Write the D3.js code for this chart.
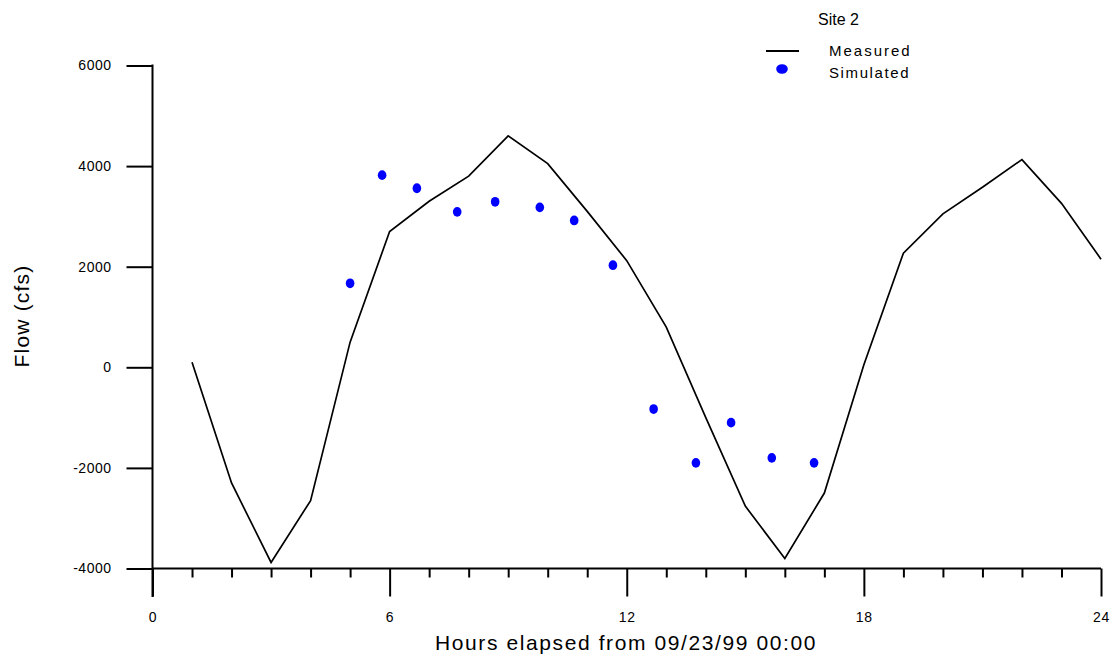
<!DOCTYPE html>
<html>
<head>
<meta charset="utf-8">
<script src="https://cdn.jsdelivr.net/npm/d3@7"></script>
<style>
  body { margin: 0; background: #fff; }
  svg { display: block; font-family: "Liberation Sans", Arial, sans-serif; }
</style>
</head>
<body>
<div id="chart"></div>
<script>
const WIDTH = 1117;
const HEIGHT = 660;

// measured flow, one reading each hour
const measuredHours = [1, 2, 3, 4, 5, 6, 7, 8, 9, 10, 11, 12, 13, 14, 15, 16, 17, 18, 19, 20, 21, 22, 23, 24];
const measuredFlow = [100, -2300, -3880, -2650, 500, 2700, 3300, 3800, 4600, 4050, 3100, 2120,
  800, -1000, -2760, -3800, -2500, 50, 2270, 3050, 3580, 4130, 3260, 2150];

// simulated flow
const simulatedHours = [5.0, 5.81, 6.69, 7.71, 8.67, 9.8, 10.67, 11.65, 12.68, 13.75, 14.64, 15.67, 16.74];
const simulatedFlow = [1670, 3820, 3560, 3090, 3290, 3180, 2920, 2030, -830, -1900, -1100, -1800, -1900];

const yTicks = [-4000, -2000, 0, 2000, 4000, 6000];
const xLabelTicks = [0, 6, 12, 18, 24];

const LINE_COLOR = '#000';
const DOT_COLOR = '#0000ff';

document.addEventListener('DOMContentLoaded', function() {
  drawChart();
});

function drawChart()
{
  var svg = d3.select('#chart').append('svg')
    .attr('width', WIDTH)
    .attr('height', HEIGHT);

  var x = d3.scaleLinear().domain([0, 24]).range([152.5, 1101]);
  var y = d3.scaleLinear().domain([-4000, 6000]).range([568.5, 65.5]);

  // y axis
  var yAxis = svg.append('g')
    .attr('transform', 'translate(152.5,0)')
    .call(d3.axisLeft(y).tickValues(yTicks).tickSize(26).tickPadding(15)
      .tickFormat(function(d) { return String(d); }));
  yAxis.select('.domain').remove();
  yAxis.selectAll('line').attr('stroke-width', 2);
  yAxis.selectAll('text')
    .attr('font-size', 14)
    .attr('letter-spacing', 0.5)
    .attr('fill', '#000')
    .attr('font-family', '"Liberation Sans", Arial, sans-serif');

  svg.append('line')
    .attr('x1', 152.5).attr('x2', 152.5)
    .attr('y1', y(6000) - 1).attr('y2', 597)
    .attr('stroke', '#000').attr('stroke-width', 2);

  // x axis
  var xAxis = svg.append('g')
    .attr('transform', 'translate(0,' + y(-4000) + ')')
    .call(d3.axisBottom(x).tickValues(d3.range(0, 25)).tickSize(9).tickPadding(0)
      .tickFormat(function(d) { return xLabelTicks.indexOf(d) >= 0 ? d : ''; }));
  xAxis.select('.domain').attr('d', 'M' + x(0) + ',0H' + x(24)).attr('stroke-width', 2);
  xAxis.selectAll('line')
    .attr('stroke-width', 2)
    .attr('y2', function(d) { return xLabelTicks.indexOf(d) >= 0 ? 28 : 9; });
  xAxis.selectAll('text')
    .attr('y', 53)
    .attr('dy', 0)
    .attr('font-size', 14)
    .attr('letter-spacing', 0.8)
    .attr('fill', '#000')
    .attr('font-family', '"Liberation Sans", Arial, sans-serif');

  // axis titles
  svg.append('text')
    .attr('x', 626).attr('y', 650)
    .attr('text-anchor', 'middle')
    .attr('font-size', 21)
    .attr('letter-spacing', 1.6)
    .text('Hours elapsed from 09/23/99 00:00');

  svg.append('text')
    .attr('transform', 'translate(29,316) rotate(-90)')
    .attr('text-anchor', 'middle')
    .attr('font-size', 21)
    .attr('letter-spacing', 1.2)
    .text('Flow (cfs)');

  // measured line
  var lineGenerator = d3.line()
    .x(function(d) { return x(d[0]); })
    .y(function(d) { return y(d[1]); });

  svg.append('path')
    .attr('d', lineGenerator(d3.zip(measuredHours, measuredFlow)))
    .style('stroke', LINE_COLOR)
    .style('stroke-width', 1.7)
    .style('fill', 'none');

  // simulated dots
  svg.selectAll('ellipse.sim')
    .data(d3.zip(simulatedHours, simulatedFlow))
    .enter()
    .append('ellipse')
    .attr('class', 'sim')
    .attr('cx', function(d) { return x(d[0]); })
    .attr('cy', function(d) { return y(d[1]); })
    .attr('rx', 4.3)
    .attr('ry', 4.9)
    .style('fill', DOT_COLOR);

  // legend
  var legend = svg.append('g');
  legend.append('text')
    .attr('x', 818).attr('y', 25)
    .attr('font-size', 16)
    .text('Site 2');
  legend.append('line')
    .attr('x1', 766).attr('x2', 799)
    .attr('y1', 51).attr('y2', 51)
    .attr('stroke', LINE_COLOR).attr('stroke-width', 2);
  legend.append('text')
    .attr('x', 829).attr('y', 56)
    .attr('font-size', 15)
    .attr('letter-spacing', 2)
    .text('Measured');
  legend.append('ellipse')
    .attr('cx', 782).attr('cy', 69)
    .attr('rx', 5.8).attr('ry', 4.8)
    .style('fill', DOT_COLOR);
  legend.append('text')
    .attr('x', 829).attr('y', 78)
    .attr('font-size', 15)
    .attr('letter-spacing', 1.6)
    .text('Simulated');
}
</script>
</body>
</html>
